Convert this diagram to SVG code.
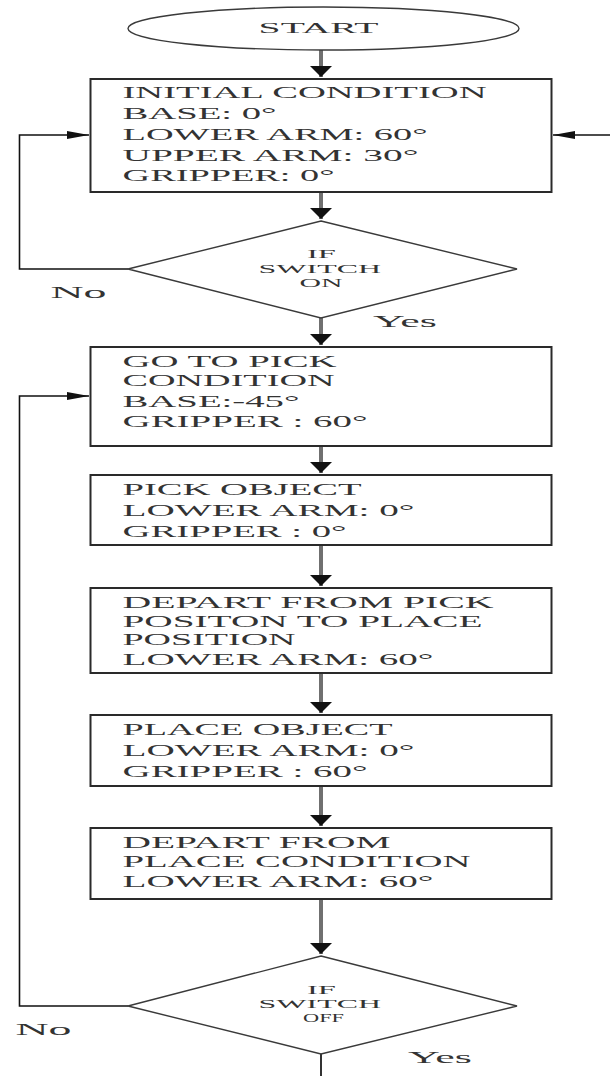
<svg xmlns="http://www.w3.org/2000/svg" width="610" height="1076" viewBox="0 0 610 1076">
<style>
text{font-family:"Liberation Serif","Times New Roman",serif;fill:#333}
.bt{font-size:16px}
.dt{font-size:12.5px;text-anchor:start}
.lab{font-size:17px}
.box{fill:#fff;stroke:#2a2a2a;stroke-width:2}
.dia{fill:#fff;stroke:#3a3a3a;stroke-width:1.4}
.flow{fill:none;stroke:#707070;stroke-width:4}
.loop{fill:none;stroke:#111;stroke-width:1.6}
</style>
<defs>
<marker id="ah" markerUnits="userSpaceOnUse" markerWidth="14" markerHeight="26" refX="11" refY="11" orient="auto" viewBox="0 0 14 22">
<path d="M0,0 L11,11 L0,22 z" fill="#111"/>
</marker>
<marker id="ahs" markerUnits="userSpaceOnUse" markerWidth="24" markerHeight="10" refX="22" refY="4" orient="auto" viewBox="0 0 24 8">
<path d="M0,0 L22,4 L0,8 z" fill="#111"/>
</marker>
</defs>
<g id="connectors">
<path class="flow" d="M321,50 V77" marker-end="url(#ah)"/>
<path class="flow" d="M321,192 V219" marker-end="url(#ah)"/>
<path class="flow" d="M321,318 V345" marker-end="url(#ah)"/>
<path class="flow" d="M321,446 V473" marker-end="url(#ah)"/>
<path class="flow" d="M321,545 V586" marker-end="url(#ah)"/>
<path class="flow" d="M321,673 V713" marker-end="url(#ah)"/>
<path class="flow" d="M321,786 V826" marker-end="url(#ah)"/>
<path class="flow" d="M321,899 V954" marker-end="url(#ah)"/>
<path d="M321,1054 V1076" fill="none" stroke="#333" stroke-width="2"/>
<path class="loop" d="M128,269 H19.5 V135 H89" marker-end="url(#ahs)"/>
<path class="loop" d="M610,135 H553" marker-end="url(#ahs)"/>
<path class="loop" d="M128,1006 H19.5 V396 H89" marker-end="url(#ahs)"/>
<text class="lab" x="50.5" y="298" textLength="56" lengthAdjust="spacingAndGlyphs">No</text>
<text class="lab" x="373" y="327" textLength="64" lengthAdjust="spacingAndGlyphs">Yes</text>
<text class="lab" x="15.5" y="1035" textLength="56" lengthAdjust="spacingAndGlyphs">No</text>
<text class="lab" x="408" y="1063" textLength="64" lengthAdjust="spacingAndGlyphs">Yes</text>
</g>
<g id="start">
<ellipse cx="323.5" cy="28.5" rx="195.5" ry="21.5" fill="#fff" stroke="#3a3a3a" stroke-width="1.4"/>
<text x="258.6" y="33" font-size="15" textLength="120" lengthAdjust="spacingAndGlyphs">START</text>
</g>
<g id="initial">
<rect class="box" x="90.5" y="79" width="461" height="113"/>
<text class="bt" x="122.5" y="98" textLength="364" lengthAdjust="spacingAndGlyphs">INITIAL CONDITION</text>
<text class="bt" x="122.5" y="119" textLength="154" lengthAdjust="spacingAndGlyphs">BASE: 0°</text>
<text class="bt" x="122.5" y="140" textLength="305" lengthAdjust="spacingAndGlyphs">LOWER ARM: 60°</text>
<text class="bt" x="122.5" y="161" textLength="296" lengthAdjust="spacingAndGlyphs">UPPER ARM: 30°</text>
<text class="bt" x="122.5" y="181" textLength="212" lengthAdjust="spacingAndGlyphs">GRIPPER: 0°</text>
</g>
<g id="switch-on">
<polygon class="dia" points="321,221 517,269 321,318 128,269"/>
<text class="dt" x="307" y="258" textLength="29" lengthAdjust="spacingAndGlyphs">IF</text>
<text class="dt" x="258.6" y="273" textLength="122.5" lengthAdjust="spacingAndGlyphs">SWITCH</text>
<text class="dt" x="299.5" y="287" textLength="43" lengthAdjust="spacingAndGlyphs">ON</text>
</g>
<g id="go-to-pick">
<rect class="box" x="90.5" y="347" width="461" height="99"/>
<text class="bt" x="122.5" y="367" textLength="214" lengthAdjust="spacingAndGlyphs">GO TO PICK</text>
<text class="bt" x="122.5" y="386" textLength="212" lengthAdjust="spacingAndGlyphs">CONDITION</text>
<text class="bt" x="122.5" y="407" textLength="177" lengthAdjust="spacingAndGlyphs">BASE:-45°</text>
<text class="bt" x="122.5" y="427" textLength="245" lengthAdjust="spacingAndGlyphs">GRIPPER : 60°</text>
</g>
<g id="pick-object">
<rect class="box" x="90.5" y="475" width="461" height="70"/>
<text class="bt" x="122.5" y="495" textLength="239" lengthAdjust="spacingAndGlyphs">PICK OBJECT</text>
<text class="bt" x="122.5" y="516" textLength="292" lengthAdjust="spacingAndGlyphs">LOWER ARM: 0°</text>
<text class="bt" x="122.5" y="537" textLength="224" lengthAdjust="spacingAndGlyphs">GRIPPER : 0°</text>
</g>
<g id="depart-pick">
<rect class="box" x="90.5" y="588" width="461" height="85"/>
<text class="bt" x="122.5" y="608" textLength="371" lengthAdjust="spacingAndGlyphs">DEPART FROM PICK</text>
<text class="bt" x="122.5" y="627" textLength="360" lengthAdjust="spacingAndGlyphs">POSITON TO PLACE</text>
<text class="bt" x="122.5" y="645" textLength="173" lengthAdjust="spacingAndGlyphs">POSITION</text>
<text class="bt" x="122.5" y="665" textLength="311" lengthAdjust="spacingAndGlyphs">LOWER ARM: 60°</text>
</g>
<g id="place-object">
<rect class="box" x="90.5" y="715" width="461" height="71"/>
<text class="bt" x="122.5" y="735" textLength="270" lengthAdjust="spacingAndGlyphs">PLACE OBJECT</text>
<text class="bt" x="122.5" y="756" textLength="292" lengthAdjust="spacingAndGlyphs">LOWER ARM: 0°</text>
<text class="bt" x="122.5" y="777" textLength="245" lengthAdjust="spacingAndGlyphs">GRIPPER : 60°</text>
</g>
<g id="depart-place">
<rect class="box" x="90.5" y="828" width="461" height="71"/>
<text class="bt" x="122.5" y="848" textLength="268" lengthAdjust="spacingAndGlyphs">DEPART FROM</text>
<text class="bt" x="122.5" y="867" textLength="348" lengthAdjust="spacingAndGlyphs">PLACE CONDITION</text>
<text class="bt" x="122.5" y="887" textLength="311" lengthAdjust="spacingAndGlyphs">LOWER ARM: 60°</text>
</g>
<g id="switch-off">
<polygon class="dia" points="321,956 517,1006 321,1054 128,1006"/>
<text class="dt" x="307" y="994" textLength="29" lengthAdjust="spacingAndGlyphs">IF</text>
<text class="dt" x="258.6" y="1008" textLength="122.5" lengthAdjust="spacingAndGlyphs">SWITCH</text>
<text class="dt" x="303" y="1022" textLength="41" lengthAdjust="spacingAndGlyphs">OFF</text>
</g>
</svg>
